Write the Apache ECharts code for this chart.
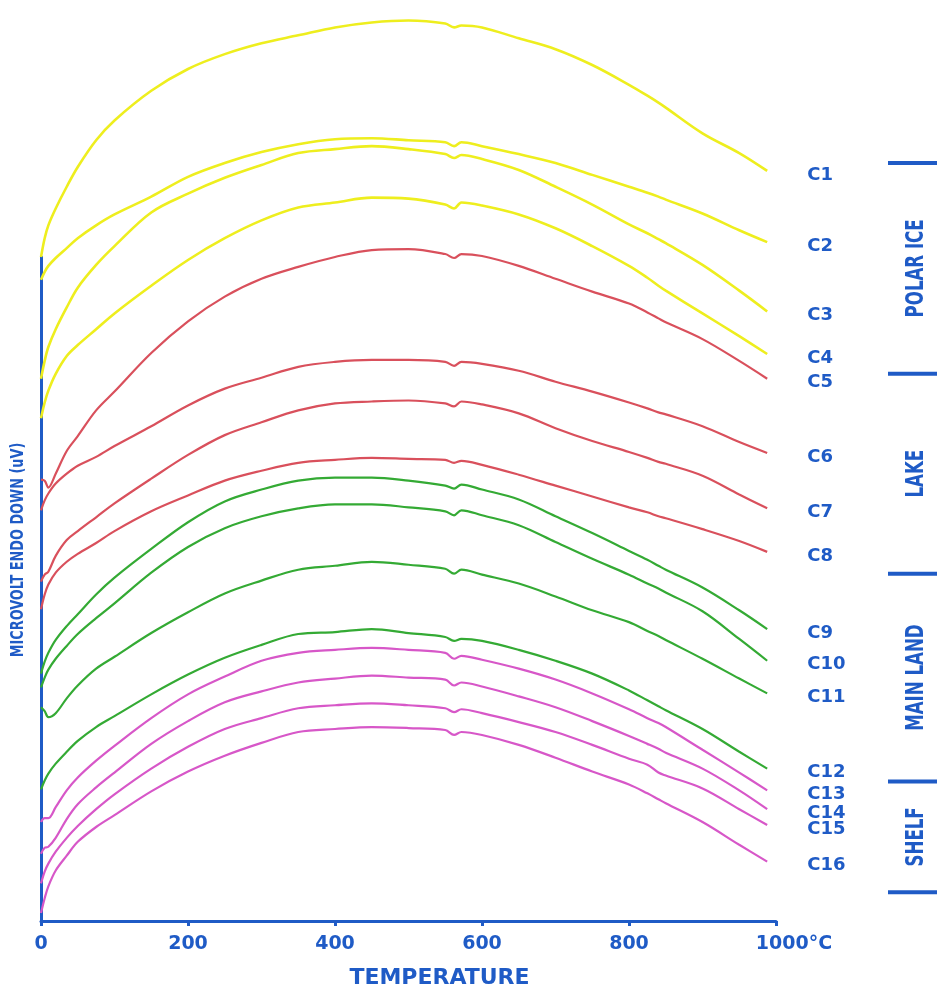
<!DOCTYPE html>
<html><head><meta charset="utf-8">
<script src="https://cdn.jsdelivr.net/npm/echarts@6/dist/echarts.min.js"></script>
<style>html,body{margin:0;padding:0;background:#fff}#c{width:937px;height:994px}</style>
</head><body><div id="c"></div>
<script>
// Temperature (°C) sample points shared by all curves
const temperature = [0,5,10,20,35,50,75,100,150,200,250,300,350,400,450,500,550,562,572,600,650,700,750,800,825,840,850,900,950,988];
// Microvolt signal (arbitrary offset units), one value per temperature
const C1  = [671,690,703,720,742,762,789,809,839,861,876,887,895,903,908,910,907,903,905,903,892,881,865,845,834,827,822,796,776,758];
const C2  = [648,656,662,670,680,690,703,714,732,752,766,777,785,790,791,789,787,783,787,783,775,766,754,742,736,732,729,715,698,686];
const C3  = [548,566,580,598,620,640,663,682,716,735,751,764,776,780,783,780,775,771,774,770,759,742,724,704,695,689,685,663,637,616];
const C4  = [508,524,536,553,571,582,598,614,642,668,690,708,721,726,731,730,724,720,726,723,714,700,682,662,650,642,637,614,591,573];
const C5  = [446,445,438,452,475,490,516,535,574,606,631,649,661,671,678,679,674,670,674,672,662,649,636,624,615,609,605,588,566,548];
const C6  = [415,425,432,442,452,460,469,480,500,521,538,549,560,565,567,567,565,561,565,563,556,545,535,524,518,514,512,500,484,473];
const C7  = [343,350,353,369,385,394,408,422,447,471,491,504,516,523,525,526,523,520,525,522,513,498,485,474,468,464,462,450,431,417];
const C8  = [315,330,340,352,363,371,382,394,414,430,445,455,463,466,468,467,466,463,465,461,451,440,429,418,413,409,407,396,384,373];
const C9  = [250,262,271,284,298,310,330,347,376,403,424,436,445,448,448,445,440,437,441,436,426,409,392,374,365,359,355,337,314,295];
const C10 = [236,246,254,265,278,290,306,321,352,378,397,409,417,421,421,418,414,410,415,410,400,383,366,350,341,336,332,313,285,263];
const C11 = [216,212,206,210,225,238,255,267,291,312,331,344,355,359,363,360,356,351,355,350,341,328,314,302,293,288,284,265,245,230];
const C12 = [133,142,149,159,171,182,196,207,229,249,266,279,290,292,295,291,287,283,285,283,274,263,250,233,223,217,213,194,171,154];
const C13 = [100,104,104,115,132,145,162,177,205,229,247,263,271,274,276,274,271,265,268,264,255,244,230,214,205,200,196,173,150,132];
const C14 = [68,74,75,84,103,118,135,150,179,202,221,232,241,245,248,246,244,238,241,237,227,216,202,187,179,174,170,154,132,113];
const C15 = [38,50,58,70,84,96,113,128,154,176,194,205,215,218,220,218,215,211,214,210,201,191,178,164,158,150,147,134,113,97];
const C16 = [8,23,35,51,66,80,95,107,131,151,167,180,191,194,196,195,193,188,191,188,178,165,151,138,129,123,119,100,77,60];

const seriesNames = ['C1','C2','C3','C4','C5','C6','C7','C8','C9','C10','C11','C12','C13','C14','C15','C16'];
const seriesValues = [C1,C2,C3,C4,C5,C6,C7,C8,C9,C10,C11,C12,C13,C14,C15,C16];
const seriesGroup = [0,0,0,0,1,1,1,1,2,2,2,2,3,3,3,3];

const xTicks = [0,200,400,600,800,1000];
const groupNames = ['POLAR ICE','LAKE','MAIN LAND','SHELF'];
const groupBounds = [766,553,351,141,29];

const BLUE = '#1f5bc6';
const groupColors = ['#eeee1e','#d9505c','#34aa34','#d757c8'];
const groupWidths = [2.6,2.2,2.2,2.2];
const NARROW = "bold 24px 'DejaVu Sans Condensed','DejaVu Sans',sans-serif";

const chart = echarts.init(document.getElementById('c'), null, {renderer:'canvas'});

const series = seriesNames.map((name, k) => ({
  name: name,
  type: 'line',
  data: temperature.map((t, i) => [t, seriesValues[k][i]]),
  symbol: 'none',
  smooth: 0.35,
  clip: false,
  lineStyle: {color: groupColors[seriesGroup[k]], width: groupWidths[seriesGroup[k]]},
  itemStyle: {color: groupColors[seriesGroup[k]]},
  endLabel: {
    show: true, formatter: '{a}', distance: 40, offset: [0, 4],
    color: BLUE, fontSize: 18, fontWeight: 'bold', fontFamily: 'DejaVu Sans'
  },
  z: 3
}));

chart.setOption({
  animation: false,
  backgroundColor: '#ffffff',
  grid: {left: 41, right: 161, top: 257, bottom: 66, containLabel: false},
  xAxis: {
    type: 'value', min: 0, max: 1000, interval: 200,
    name: 'TEMPERATURE', nameLocation: 'middle', nameGap: 46,
    nameTextStyle: {color: BLUE, fontSize: 22, fontWeight: 'bold', fontFamily: 'DejaVu Sans', padding: [0,0,0,62]},
    axisLine: {show: true, lineStyle: {color: BLUE, width: 3}},
    axisTick: {show: true, length: 5, lineStyle: {color: BLUE, width: 3}},
    axisLabel: {
      color: BLUE, fontSize: 19, fontWeight: 'bold', fontFamily: 'DejaVu Sans', margin: 14,
      customValues: xTicks,
      formatter: v => v === 1000 ? '{u|1000°C}' : String(v),
      rich: {u: {color: BLUE, fontSize: 19, fontWeight: 'bold', fontFamily: 'DejaVu Sans', padding: [0,0,0,36]}}
    },
    splitLine: {show: false}
  },
  yAxis: {
    type: 'value', min: 0, max: 671,
    axisLine: {show: true, lineStyle: {color: BLUE, width: 3}},
    axisTick: {show: false},
    axisLabel: {show: false},
    splitLine: {show: false}
  },
  series: series
});

// Annotations positioned through the y scale
const toY = v => chart.convertToPixel({gridIndex: 0}, [0, v])[1];
const graphics = [{
  type: 'text', x: 19, y: 550, rotation: Math.PI / 2, scaleX: 0.84,
  style: {text: 'MICROVOLT ENDO DOWN (uV)', fill: BLUE, font: "bold 17px 'DejaVu Sans Condensed','DejaVu Sans',sans-serif", align: 'center', verticalAlign: 'middle'}
}];
groupBounds.forEach(b => {
  const y = toY(b);
  graphics.push({type: 'line', shape: {x1: 888, y1: y, x2: 940, y2: y}, style: {stroke: BLUE, lineWidth: 4}});
});
groupNames.forEach((g, i) => {
  const yc = (toY(groupBounds[i]) + toY(groupBounds[i + 1])) / 2;
  graphics.push({
    type: 'text', x: 917, y: yc, rotation: Math.PI / 2, scaleX: 0.77,
    style: {text: g, fill: BLUE, font: NARROW, align: 'center', verticalAlign: 'middle'}
  });
});
chart.setOption({graphic: graphics});
</script>
</body></html>
